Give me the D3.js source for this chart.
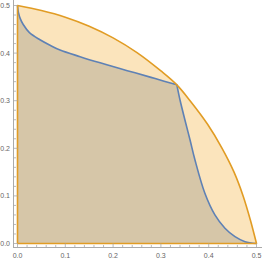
<!DOCTYPE html>
<html><head><meta charset="utf-8">
<script src="https://cdn.jsdelivr.net/npm/d3@7"></script>
<style>html,body{margin:0;padding:0;background:#fff;}</style>
</head><body>
<svg id="c" width="262" height="262"></svg>
<script>
// Orange boundary curve (outer region)
const orangeX = [0, 0.05, 0.1, 0.15, 0.2, 0.25, 0.3, 0.3333, 0.361, 0.398, 0.428, 0.453, 0.472, 0.487, 0.5];
const orangeY = [0.5, 0.4895, 0.4755, 0.4565, 0.432, 0.401, 0.3625, 0.3333, 0.3, 0.25, 0.2, 0.15, 0.1, 0.05, 0];
// Blue boundary curve (inner region)
const blueX = [0, 0.002, 0.006, 0.012, 0.025, 0.047, 0.068, 0.089, 0.131, 0.173, 0.214, 0.246, 0.288, 0.3333, 0.340, 0.3504, 0.361, 0.3713, 0.392, 0.413, 0.434, 0.455, 0.476, 0.5];
const blueY = [0.5, 0.485, 0.472, 0.46, 0.443, 0.428, 0.4165, 0.4065, 0.3925, 0.3795, 0.3675, 0.3585, 0.3465, 0.3333, 0.3015, 0.259, 0.2174, 0.1754, 0.1055, 0.060, 0.032, 0.0143, 0.0038, 0];
const xTicks = [0, 0.1, 0.2, 0.3, 0.4, 0.5];
const yTicks = [0, 0.1, 0.2, 0.3, 0.4, 0.5];
const xTickLabels = ["0.0", "0.1", "0.2", "0.3", "0.4", "0.5"];
const yTickLabels = ["0.0", "0.1", "0.2", "0.3", "0.4", "0.5"];
const minorTicks = d3.range(0, 0.5001, 0.02);

const svg = d3.select("#c");
const x = d3.scaleLinear().domain([0, 0.5]).range([17.5, 256.5]);
const y = d3.scaleLinear().domain([0, 0.5]).range([243.5, 5.5]);

const curve = d3.line().x(d => x(d[0])).y(d => y(d[1])).curve(d3.curveCatmullRom.alpha(0.5));

const oPts = orangeX.map((v, i) => [v, orangeY[i]]);
const bAll = blueX.map((v, i) => [v, blueY[i]]);
const bUpper = bAll.filter(d => d[0] <= 0.3334);
const bLower = bAll.filter(d => d[0] >= 0.3333);

// orange region fill
const oPath = curve(oPts) + "L" + x(0) + "," + y(0) + "Z";
svg.append("path").attr("d", oPath).attr("fill", "rgb(251,228,188)").attr("stroke", "none");

// blue region fill
const bPathStr = curve(bUpper) + curve(bLower).replace(/^M/, "L");
svg.append("path").attr("d", bPathStr + "L" + x(0) + "," + y(0) + "Z")
  .attr("fill", "rgb(214,198,168)").attr("stroke", "none");

// blue boundary
svg.append("path").attr("d", bPathStr).attr("fill", "none")
  .attr("stroke", "rgb(94,129,181)").attr("stroke-width", 1.6).attr("stroke-linejoin", "round");

// orange boundary including axes edges
svg.append("path").attr("d", oPath).attr("fill", "none")
  .attr("stroke", "rgb(225,156,36)").attr("stroke-width", 1.6).attr("stroke-linejoin", "round");

// axes
const axisColor = "#aaa";
const g = svg.append("g");
const axY = 247.5, axX = 13.5;
g.append("line").attr("x1", 13).attr("x2", 262).attr("y1", axY).attr("y2", axY).attr("stroke", axisColor).attr("stroke-width", 1);
g.append("line").attr("x1", axX).attr("x2", axX).attr("y1", 0).attr("y2", 248).attr("stroke", axisColor).attr("stroke-width", 1);
minorTicks.forEach(t => {
  const major = xTicks.some(m => Math.abs(m - t) < 1e-6);
  const len = major ? 4 : 2.5;
  g.append("line").attr("x1", x(t)).attr("x2", x(t)).attr("y1", axY).attr("y2", axY - len).attr("stroke", axisColor).attr("stroke-width", 0.8);
  g.append("line").attr("x1", axX).attr("x2", axX + len).attr("y1", y(t)).attr("y2", y(t)).attr("stroke", axisColor).attr("stroke-width", 0.8);
});
xTicks.forEach((t, i) => {
  g.append("text").attr("x", x(t)).attr("y", 257.5).attr("text-anchor", "middle")
    .attr("font-family", "Liberation Sans, Arial, sans-serif").attr("font-size", 7).attr("fill", "#666").text(xTickLabels[i]);
});
yTicks.forEach((t, i) => {
  g.append("text").attr("x", 10).attr("y", y(t) + 2.5).attr("text-anchor", "end")
    .attr("font-family", "Liberation Sans, Arial, sans-serif").attr("font-size", 7).attr("fill", "#666").text(yTickLabels[i]);
});
</script>
</body></html>
